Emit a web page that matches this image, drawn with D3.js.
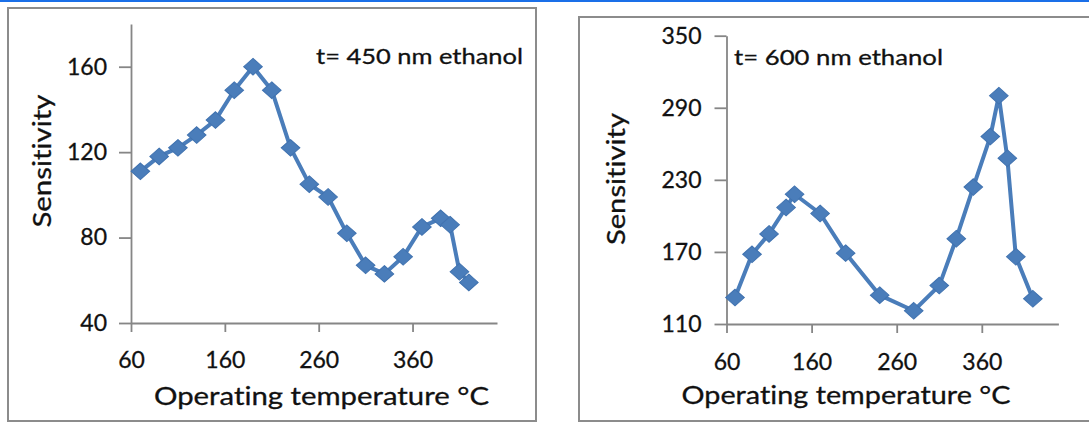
<!DOCTYPE html>
<html>
<head>
<meta charset="utf-8">
<script src="https://cdn.jsdelivr.net/npm/d3@7"></script>
<style>
  body { margin: 0; background: #fff; }
  svg { display: block; font-family: Lato, "Open Sans", sans-serif; font-variant-ligatures: none; }
</style>
</head>
<body>
<svg id="chart" width="1089" height="423"></svg>
<script>
// data
var temps450 = [70, 90, 110, 130, 150, 170, 190, 210, 230, 250, 270, 290, 310, 330, 350, 370, 390, 400, 410, 420];
var sens450  = [111, 118, 122, 128, 135, 149, 160, 149, 122, 105, 99, 82, 67, 63, 71, 85, 89, 86, 64, 59];

var temps600 = [70, 90, 110, 130, 140, 170, 200, 240, 280, 310, 330, 350, 370, 380, 390, 400, 420];
var sens600  = [132, 168, 185, 207, 218, 202, 169, 134, 121, 142, 181, 224, 266, 300, 248, 166, 131];

var xTicks = [60, 160, 260, 360];
var yTicks450 = [40, 80, 120, 160];
var yTicks600 = [110, 170, 230, 290, 350];

var xTitle = "Operating temperature \u00B0C";
var yTitle = "Sensitivity";
var label450 = "t= 450 nm ethanol";
var label600 = "t= 600 nm ethanol";

var lineColor = "#4a7dba";
var axisColor = "#868686";
var textColor = "#111";

var svg = d3.select("#chart");

// thin blue rule across the top
svg.append("rect").attr("x", 0).attr("y", 0).attr("width", 1089).attr("height", 2).attr("fill", "#1a6fe8");

function drawPanel(p) {
    // frame
    svg.append("rect")
        .attr("x", p.box[0]).attr("y", p.box[1])
        .attr("width", p.box[2]).attr("height", p.box[3])
        .attr("fill", "none").attr("stroke", "#8c8c8c").attr("stroke-width", 2);

    var x = d3.scaleLinear().domain([60, 450]).range(p.xr);
    var y = d3.scaleLinear().domain(p.yd).range(p.yr);

    var yAxis = d3.axisLeft(y).tickValues(p.yTicks).tickSizeInner(12).tickSizeOuter(0).tickPadding(p.yPad);
    var xAxis = d3.axisBottom(x).tickValues(xTicks).tickSizeInner(9).tickSizeOuter(0).tickPadding(p.xPad);

    var gy = svg.append("g").attr("transform", "translate(" + p.xr[0] + ",0)").call(yAxis);
    var gx = svg.append("g").attr("transform", "translate(0," + p.yr[0] + ")").call(xAxis);

    [gx, gy].forEach(function(g) {
        g.select(".domain").attr("stroke", axisColor).attr("stroke-width", 1.8);
        g.selectAll(".tick line").attr("stroke", axisColor).attr("stroke-width", 1.8);
        g.selectAll(".tick text").attr("fill", textColor)
            .attr("stroke", textColor).attr("stroke-width", 0.3)
            .style("font-family", "Lato, sans-serif").style("font-size", "23px");
    });

    var pts = p.xs.map(function(t, i) { return [t, p.ys[i]]; });

    svg.append("path")
        .datum(pts)
        .attr("fill", "none")
        .attr("stroke", lineColor)
        .attr("stroke-width", 4)
        .attr("stroke-linejoin", "round")
        .attr("d", d3.line().x(function(d) { return x(d[0]); }).y(function(d) { return y(d[1]); }));

    var diamond = d3.symbol().type(d3.symbolDiamond2).size(175);
    svg.append("g").selectAll("path")
        .data(pts)
        .enter()
        .append("path")
        .attr("d", diamond)
        .attr("transform", function(d) { return "translate(" + x(d[0]) + "," + y(d[1]) + ") scale(1.12,1)"; })
        .attr("fill", lineColor)
        .attr("stroke", "#4173b0")
        .attr("stroke-width", 1);

    // axis titles and annotation
    svg.append("text")
        .attr("x", p.xTitle[0]).attr("y", p.xTitle[1])
        .attr("textLength", p.xTitle[2]).attr("lengthAdjust", "spacingAndGlyphs")
        .attr("fill", textColor).attr("stroke", textColor).attr("stroke-width", 0.3)
        .style("font-size", "25px")
        .text(xTitle);

    svg.append("text")
        .attr("transform", "translate(" + p.yTitle[0] + "," + p.yTitle[1] + ") rotate(-90)")
        .attr("text-anchor", "middle")
        .attr("textLength", p.yTitle[2]).attr("lengthAdjust", "spacingAndGlyphs")
        .attr("fill", textColor).attr("stroke", textColor).attr("stroke-width", 0.3)
        .style("font-size", "25px")
        .text(yTitle);

    svg.append("text")
        .attr("x", p.note[0]).attr("y", p.note[1])
        .attr("textLength", p.note[2]).attr("lengthAdjust", "spacingAndGlyphs")
        .attr("fill", textColor).attr("stroke", textColor).attr("stroke-width", 0.3)
        .style("font-size", "22px")
        .text(p.noteText);
}

drawPanel({
    box: [8, 8, 528, 413],
    xr: [131, 497], yd: [40, 180], yr: [323, 24],
    yTicks: yTicks450, yPad: 12, xPad: 20,
    xs: temps450, ys: sens450,
    xTitle: [154, 405, 335],
    yTitle: [51, 161, 133],
    note: [316, 64, 207], noteText: label450
});

drawPanel({
    box: [579, 17, 520, 404],
    xr: [726.5, 1058.4], yd: [110, 350], yr: [324, 35.7],
    yTicks: yTicks600, yPad: 13, xPad: 21,
    xs: temps600, ys: sens600,
    xTitle: [681.5, 404, 329],
    yTitle: [625, 179, 132],
    note: [734, 65, 209], noteText: label600
});
</script>
</body>
</html>
